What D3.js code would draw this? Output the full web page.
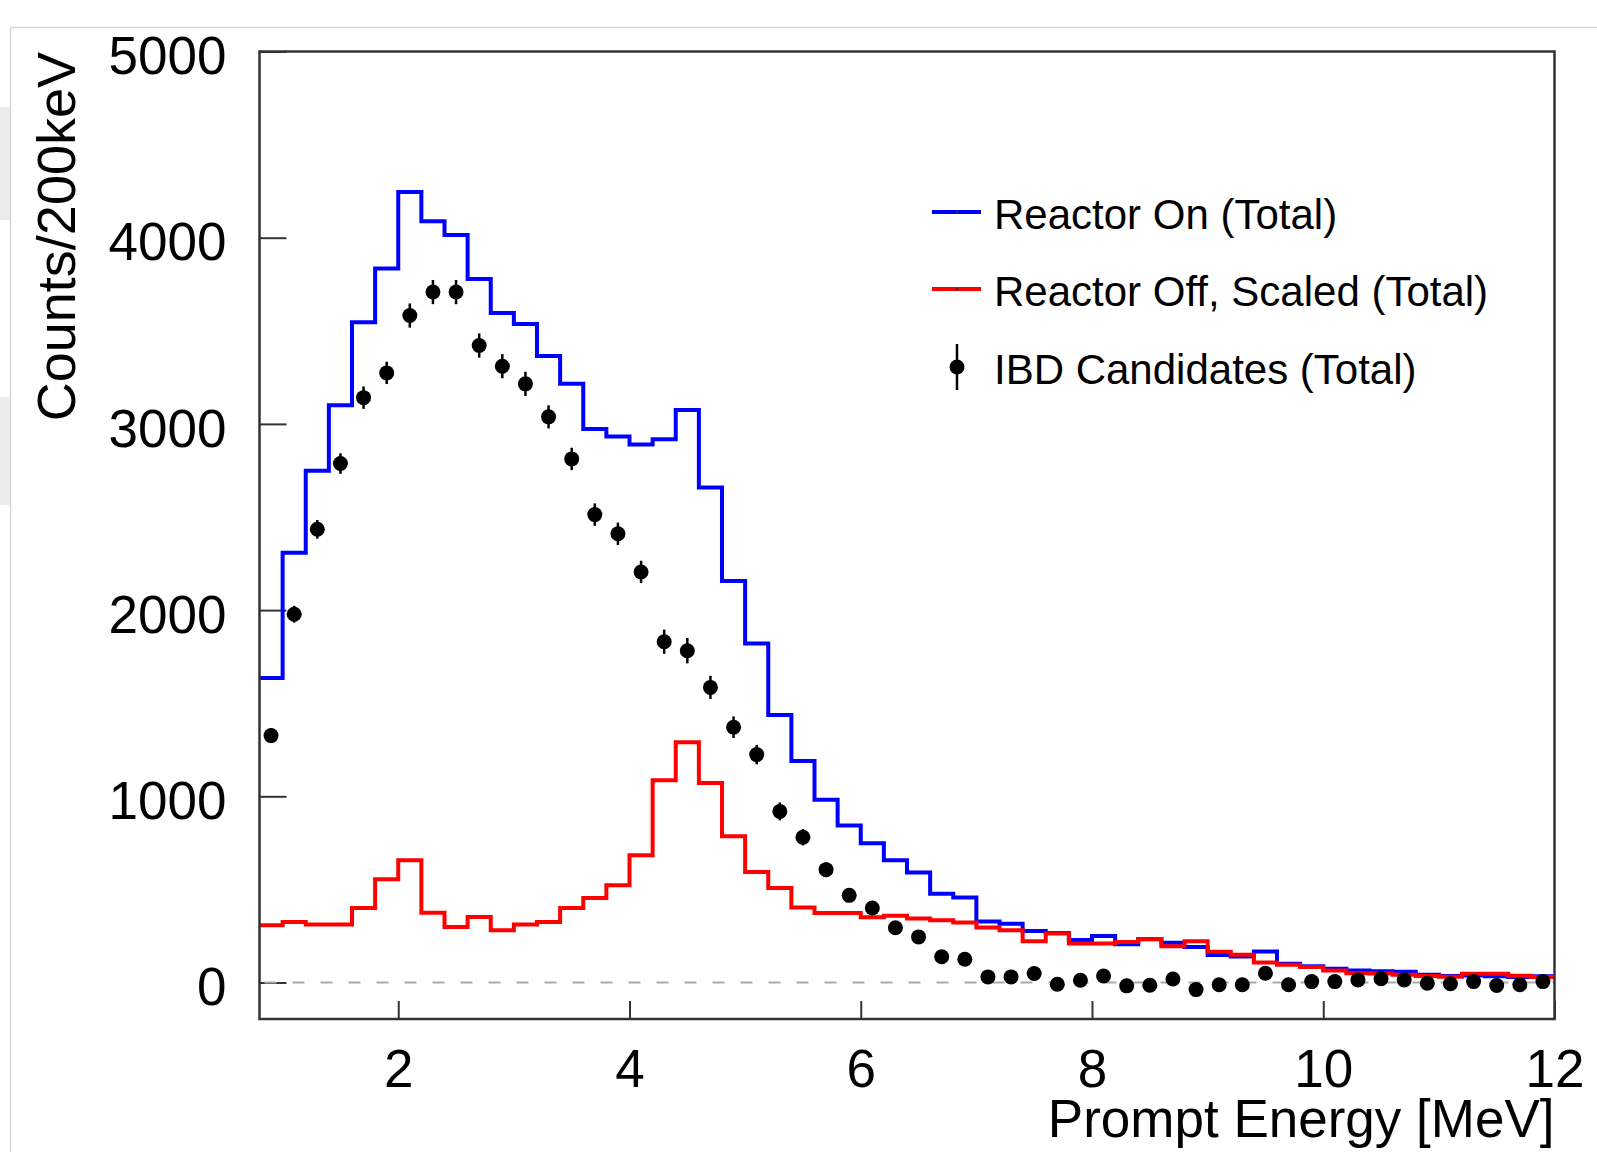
<!DOCTYPE html>
<html>
<head>
<meta charset="utf-8">
<script src="https://cdn.jsdelivr.net/npm/d3@7"></script>
<style>
  body { margin: 0; background: #fff; }
  text { font-family: "Liberation Sans", Arial, Helvetica, sans-serif; fill: #000; }
</style>
</head>
<body>
<div id="chart"></div>
<script>
// bin lower edges, 200 keV bins
const binLow = [0.8, 1.0, 1.2, 1.4, 1.6, 1.8, 2.0, 2.2, 2.4, 2.6, 2.8, 3.0, 3.2, 3.4, 3.6, 3.8,
    4.0, 4.2, 4.4, 4.6, 4.8, 5.0, 5.2, 5.4, 5.6, 5.8, 6.0, 6.2, 6.4, 6.6, 6.8, 7.0, 7.2, 7.4,
    7.6, 7.8, 8.0, 8.2, 8.4, 8.6, 8.8, 9.0, 9.2, 9.4, 9.6, 9.8, 10.0, 10.2, 10.4, 10.6, 10.8,
    11.0, 11.2, 11.4, 11.6, 11.8];
const binWidth = 0.2;

const reactorOn = [1636, 2308, 2748, 3100, 3546, 3835, 4245, 4088, 4014, 3778, 3595, 3536, 3365, 3215, 2972, 2932,
    2890, 2918, 3075, 2658, 2156, 1820, 1436, 1189, 982, 843, 748, 656, 591, 476, 456, 327, 316, 277,
    266, 228, 250, 205, 232, 214, 191, 148, 140, 166, 101, 87, 74, 64, 61, 58, 42,
    35, 38, 33, 30, 33];

const reactorOff = [307, 325, 311, 311, 400, 554, 656, 374, 298, 352, 281, 311, 325, 400, 454, 522,
    683, 1086, 1290, 1072, 785, 594, 508, 403, 373, 373, 350, 358, 344, 335, 322, 296, 281, 222,
    263, 210, 210, 218, 234, 195, 222, 165, 149, 108, 95, 83, 65, 50, 49, 41, 35,
    31, 47, 47, 36, 30];

const ibdCounts = [1326, 1978, 2434, 2787, 3141, 3274, 3582, 3708, 3708, 3421, 3310, 3215, 3038, 2812, 2513, 2410,
    2205, 1830, 1782, 1585, 1371, 1224, 919, 780, 606, 468, 400, 294, 245, 138, 125, 30, 30, 48,
    -9, 12, 35, -18, -15, 19, -38, -12, -12, 50, -12, 5, 5, 14, 20, 14, -4,
    -7, 5, -16, -12, 5];

const ibdErrors = [40, 45, 50, 55, 60, 60, 65, 65, 65, 65, 65, 65, 62, 60, 60, 60,
    60, 65, 68, 62, 58, 52, 48, 44, 40, 36, 34, 32, 30, 28, 27, 26, 25, 25,
    24, 24, 24, 23, 23, 23, 22, 22, 22, 22, 21, 21, 21, 20, 20, 20, 20,
    20, 20, 20, 20, 20];

const xTicks = [2, 4, 6, 8, 10, 12];
const yTicks = [0, 1000, 2000, 3000, 4000, 5000];
const legendLabels = ["Reactor On (Total)", "Reactor Off, Scaled (Total)", "IBD Candidates (Total)"];
const legendColors = ["#0000ff", "#ff0000", "#000"];

class SpectrumPlot {
    constructor(containerId) {
        this.container = d3.select(containerId);
        this.W = 1597;
        this.H = 1152;
        this.frame = { left: 259.5, top: 51.5, right: 1554.5, bottom: 1019 };
        this.init();
    }

    init() {
        this.svg = this.container.append("svg")
            .attr("width", this.W)
            .attr("height", this.H);

        this.drawPageBits();

        this.xScale = d3.scaleLinear().domain([0.8, 12]).range([this.frame.left, this.frame.right]);
        this.yScale = d3.scaleLinear().domain([-196, 5000]).range([this.frame.bottom, this.frame.top]);

        this.drawAxes();
        this.drawHist(reactorOn, "#0000ff");
        this.drawHist(reactorOff, "#ff0000");
        this.drawPoints();
        this.drawFrame();
        this.drawLegend();
        this.addLabels();
    }

    // leftovers of the screenshot the plot was cut from
    drawPageBits() {
        this.svg.append("line")
            .attr("x1", 10).attr("x2", this.W).attr("y1", 27.5).attr("y2", 27.5)
            .attr("stroke", "#d6d6d6").attr("stroke-width", 1.5);
        this.svg.append("line")
            .attr("x1", 10.5).attr("x2", 10.5).attr("y1", 27).attr("y2", this.H)
            .attr("stroke", "#d6d6d6").attr("stroke-width", 1.5);
        [[107, 220], [397, 505]].forEach(([a, b]) => {
            this.svg.append("rect")
                .attr("x", 0).attr("y", a).attr("width", 10).attr("height", b - a)
                .attr("fill", "#ebebeb");
        });
    }

    drawAxes() {
        const fs = 53;
        const yAxis = this.svg.append("g")
            .attr("transform", `translate(${this.frame.left},0)`)
            .call(d3.axisLeft(this.yScale).tickValues(yTicks).tickFormat(d3.format("d"))
                .tickSize(-27).tickSizeOuter(0).tickPadding(33));
        yAxis.select(".domain").remove();
        yAxis.selectAll("line").attr("stroke", "#333").attr("stroke-width", 2);
        yAxis.selectAll("text").attr("font-size", fs).attr("dy", "0.42em")
            .style("font-family", "'Liberation Sans', Arial, sans-serif").attr("fill", "#000");

        const xAxis = this.svg.append("g")
            .attr("transform", `translate(0,${this.frame.bottom})`)
            .call(d3.axisBottom(this.xScale).tickValues(xTicks).tickFormat(d3.format("d"))
                .tickSize(-18).tickSizeOuter(0).tickPadding(30));
        xAxis.select(".domain").remove();
        xAxis.selectAll("line").attr("stroke", "#333").attr("stroke-width", 2);
        xAxis.selectAll("text").attr("font-size", fs)
            .style("font-family", "'Liberation Sans', Arial, sans-serif").attr("fill", "#000");

        // zero line
        this.svg.append("line")
            .attr("x1", this.frame.left).attr("x2", this.frame.right)
            .attr("y1", this.yScale(0)).attr("y2", this.yScale(0))
            .attr("stroke", "#aaa").attr("stroke-width", 2)
            .attr("stroke-dasharray", "12,16")
            .attr("stroke-dashoffset", -5);
    }

    drawHist(values, color) {
        const pts = binLow.map((x, i) => [x, values[i]]);
        pts.push([binLow[binLow.length - 1] + binWidth, values[values.length - 1]]);

        const line = d3.line()
            .x(d => this.xScale(d[0]))
            .y(d => this.yScale(d[1]))
            .curve(d3.curveStepAfter);

        this.svg.append("path")
            .datum(pts)
            .attr("d", line)
            .attr("fill", "none")
            .attr("stroke", color)
            .attr("stroke-width", 4)
            .attr("stroke-linejoin", "miter");
    }

    drawPoints() {
        const data = binLow.map((x, i) => ({ x: x + binWidth / 2, y: ibdCounts[i], e: ibdErrors[i] }));
        const g = this.svg.append("g");

        g.selectAll(".err")
            .data(data)
            .enter()
            .append("line")
            .attr("class", "err")
            .attr("x1", d => this.xScale(d.x)).attr("x2", d => this.xScale(d.x))
            .attr("y1", d => this.yScale(d.y - d.e)).attr("y2", d => this.yScale(d.y + d.e))
            .attr("stroke", "#000").attr("stroke-width", 2.5);

        g.selectAll(".dot")
            .data(data)
            .enter()
            .append("circle")
            .attr("class", "dot")
            .attr("cx", d => this.xScale(d.x))
            .attr("cy", d => this.yScale(d.y))
            .attr("r", 7.5)
            .attr("fill", "#000");
    }

    drawFrame() {
        const f = this.frame;
        this.svg.append("rect")
            .attr("x", f.left).attr("y", f.top)
            .attr("width", f.right - f.left).attr("height", f.bottom - f.top)
            .attr("fill", "none").attr("stroke", "#333").attr("stroke-width", 2.5);
    }

    drawLegend() {
        const lg = this.svg.append("g");
        const rowY = [212, 289, 367];

        legendLabels.forEach((label, i) => {
            const y = rowY[i];
            if (i < 2) {
                lg.append("line")
                    .attr("x1", 932).attr("x2", 981).attr("y1", y).attr("y2", y)
                    .attr("stroke", legendColors[i]).attr("stroke-width", 4);
                lg.append("rect")
                    .attr("x", 955.5).attr("y", y - 1).attr("width", 3).attr("height", 2)
                    .attr("fill", "#333");
            } else {
                lg.append("line")
                    .attr("x1", 957).attr("x2", 957).attr("y1", y - 23).attr("y2", y + 23)
                    .attr("stroke", "#000").attr("stroke-width", 2.5);
                lg.append("circle")
                    .attr("cx", 957).attr("cy", y).attr("r", 7.5).attr("fill", "#000");
            }
            lg.append("text")
                .attr("x", 994)
                .attr("y", y + 17)
                .attr("font-size", 42)
                .text(label);
        });
    }

    addLabels() {
        this.svg.append("text")
            .attr("text-anchor", "end")
            .attr("x", this.frame.right)
            .attr("y", 1137)
            .attr("font-size", 53)
            .text("Prompt Energy [MeV]");

        this.svg.append("text")
            .attr("text-anchor", "end")
            .attr("transform", `translate(75,52) rotate(-90)`)
            .attr("font-size", 54)
            .text("Counts/200keV");
    }
}

new SpectrumPlot("#chart");
</script>
</body>
</html>
